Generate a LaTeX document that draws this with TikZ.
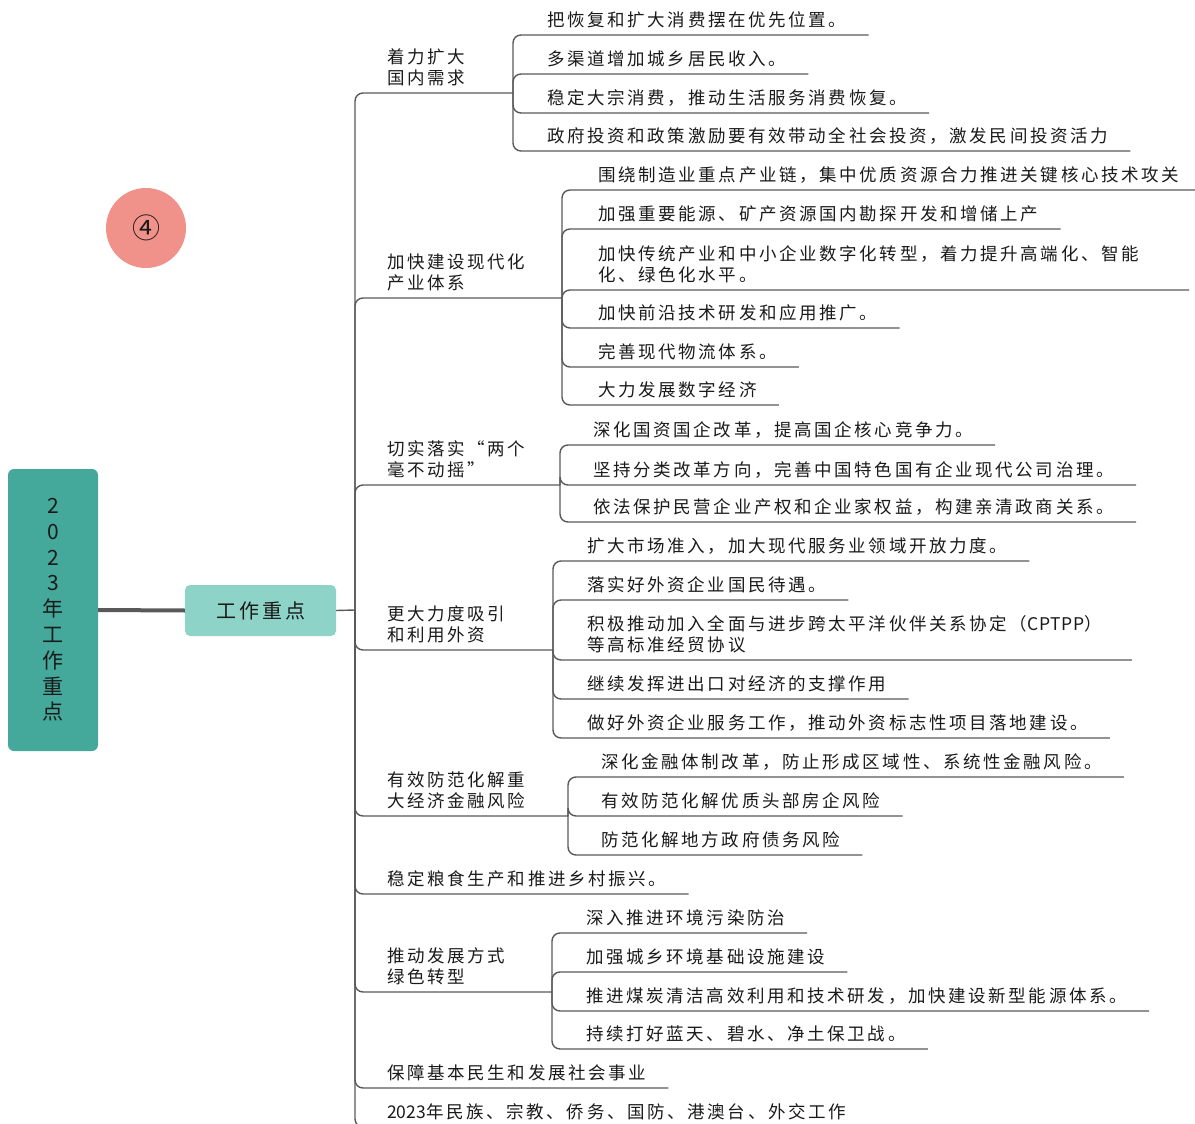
\documentclass[tikz,border=0pt]{standalone}
\usepackage{fontspec}
\setmainfont{Noto Sans CJK SC}[LetterSpace=15]
\definecolor{rootteal}{HTML}{44A89B}
\definecolor{topicteal}{HTML}{8ED3C7}
\definecolor{badgered}{HTML}{F0918A}
\definecolor{linegray}{HTML}{595959}
\definecolor{inkgray}{HTML}{1A1A1A}
\tikzset{
  link/.style={draw=linegray, line width=1.4pt, rounded corners=8pt},
  trunk/.style={draw=linegray, line width=4pt},
  item/.style={anchor=south west, inner xsep=0pt, inner ysep=6.5pt, align=left,
    text=inkgray, font=\fontsize{17.5}{21}\selectfont},
  rootbox/.style={fill=rootteal, rounded corners=6pt, minimum width=90pt,
    minimum height=282pt, align=center, text=inkgray,
    font=\fontsize{21}{25.8}\selectfont},
  topicbox/.style={fill=topicteal, rounded corners=5pt, minimum width=151pt,
    minimum height=51pt, text=inkgray, font=\fontsize{20}{24}\selectfont},
  badge/.style={circle, fill=badgered, minimum size=80pt, inner sep=0pt,
    text=inkgray, font=\fontsize{28}{30}\selectfont}
}
\begin{document}
\begin{tikzpicture}[x=1pt,y=-1pt]
\useasboundingbox (0,0) rectangle (1195,1124);
\def\pad{22pt}
% root and topic
\node[rootbox] (root) at (53,610) {2\\0\\2\\3\\年\\工\\作\\重\\点};
\node[topicbox] (topic) at (260.5,610.5) {工作重点};
\node[badge] (badge) at (146,228) {④};
\draw[trunk] (root.east) -- (topic.west);
\coordinate (hub) at (355,610);
\draw[link] (topic.east) -- (hub);

% branch 1
\node[item] (b1) at (387,93) {着力扩大\\国内需求};
\coordinate (f1) at (513,93);
\node[item] (c11) at (547,35) {把恢复和扩大消费摆在优先位置。};
\node[item] (c12) at (547,74) {多渠道增加城乡居民收入。};
\node[item] (c13) at (547,113) {稳定大宗消费，推动生活服务消费恢复。};
\node[item] (c14) at (547,151) {政府投资和政策激励要有效带动全社会投资，激发民间投资活力};
\draw[link] (hub) |- (f1);
\foreach \c in {c11,c12,c13,c14}
  \draw[link] (f1) |- ([xshift=\pad]\c.south east);

% branch 2
\node[item] (b2) at (387,298) {加快建设现代化\\产业体系};
\coordinate (f2) at (562,298);
\node[item] (c21) at (598,190) {围绕制造业重点产业链，集中优质资源合力推进关键核心技术攻关};
\node[item] (c22) at (598,229) {加强重要能源、矿产资源国内勘探开发和增储上产};
\node[item] (c23) at (598,290) {加快传统产业和中小企业数字化转型，着力提升高端化、智能\\化、绿色化水平。};
\node[item] (c24) at (598,328) {加快前沿技术研发和应用推广。};
\node[item] (c25) at (598,367) {完善现代物流体系。};
\node[item] (c26) at (598,405) {大力发展数字经济};
\draw[link] (hub) |- (f2);
\foreach \c in {c21,c22,c24,c25,c26}
  \draw[link] (f2) |- ([xshift=\pad]\c.south east);
\draw[link] (f2) |- ([xshift=50pt]c23.south east);

% branch 3
\node[item] (b3) at (387,485) {切实落实“两个\\毫不动摇”};
\coordinate (f3) at (560,485);
\node[item] (c31) at (593,445) {深化国资国企改革，提高国企核心竞争力。};
\node[item] (c32) at (593,485) {坚持分类改革方向，完善中国特色国有企业现代公司治理。};
\node[item] (c33) at (593,522) {依法保护民营企业产权和企业家权益，构建亲清政商关系。};
\draw[link] (hub) |- (f3);
\foreach \c in {c31,c32,c33}
  \draw[link] (f3) |- ([xshift=\pad]\c.south east);

% branch 4
\node[item] (b4) at (387,650) {更大力度吸引\\和利用外资};
\coordinate (f4) at (553,650);
\node[item] (c41) at (587,561) {扩大市场准入，加大现代服务业领域开放力度。};
\node[item] (c42) at (587,600) {落实好外资企业国民待遇。};
\node[item] (c43) at (587,660) {积极推动加入全面与进步跨太平洋伙伴关系协定（{\addfontfeature{LetterSpace=4}CPTPP}）\\等高标准经贸协议};
\node[item] (c44) at (587,699) {继续发挥进出口对经济的支撑作用};
\node[item] (c45) at (587,738) {做好外资企业服务工作，推动外资标志性项目落地建设。};
\draw[link] (hub) |- (f4);
\foreach \c in {c41,c42,c44,c45}
  \draw[link] (f4) |- ([xshift=\pad]\c.south east);
\draw[link] (f4) |- ([xshift=30pt]c43.south east);

% branch 5
\node[item] (b5) at (387,816) {有效防范化解重\\大经济金融风险};
\coordinate (f5) at (568,816);
\node[item] (c51) at (601,777) {深化金融体制改革，防止形成区域性、系统性金融风险。};
\node[item] (c52) at (601,816) {有效防范化解优质头部房企风险};
\node[item] (c53) at (601,855) {防范化解地方政府债务风险};
\draw[link] (hub) |- (f5);
\foreach \c in {c51,c52,c53}
  \draw[link] (f5) |- ([xshift=\pad]\c.south east);

% branch 6
\node[item] (b6) at (387,894) {稳定粮食生产和推进乡村振兴。};
\draw[link] (hub) |- ([xshift=\pad]b6.south east);

% branch 7
\node[item] (b7) at (387,992) {推动发展方式\\绿色转型};
\coordinate (f7) at (552,992);
\node[item] (c71) at (586,933) {深入推进环境污染防治};
\node[item] (c72) at (586,972) {加强城乡环境基础设施建设};
\node[item] (c73) at (586,1011) {推进煤炭清洁高效利用和技术研发，加快建设新型能源体系。};
\node[item] (c74) at (586,1049) {持续打好蓝天、碧水、净土保卫战。};
\draw[link] (hub) |- (f7);
\foreach \c in {c71,c72,c73,c74}
  \draw[link] (f7) |- ([xshift=\pad]\c.south east);

% branch 8 and 9
\node[item] (b8) at (387,1088) {保障基本民生和发展社会事业};
\node[item] (b9) at (387,1127) {{\addfontfeature{LetterSpace=0}2023}年民族、宗教、侨务、国防、港澳台、外交工作};
\draw[link] (hub) |- ([xshift=\pad]b8.south east);
\draw[link] (hub) |- ([xshift=\pad]b9.south east);
\end{tikzpicture}
\end{document}
